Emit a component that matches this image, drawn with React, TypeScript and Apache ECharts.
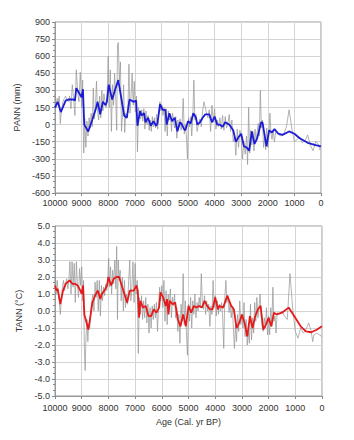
import React, { useEffect, useRef } from "react";
import * as echarts from "echarts";

const xTicks = [10000, 9000, 8000, 7000, 6000, 5000, 4000, 3000, 2000, 1000, 0];

// PANN (mm) raw reconstruction [age, value]
const pannRaw: number[][] = [
  [10000,270],[9960,150],[9920,230],[9880,200],[9840,250],[9800,10],[9760,120],[9700,200],[9650,230],[9600,250],
  [9550,220],[9500,200],[9450,250],[9400,140],[9350,350],[9300,230],[9250,80],[9200,480],[9150,300],[9100,200],
  [9050,460],[9000,150],[8960,390],[8920,-250],[8880,50],[8840,-200],[8800,30],[8760,-100],[8720,60],[8680,-30],
  [8640,100],[8600,-20],[8560,320],[8520,50],[8480,150],[8440,380],[8400,120],[8360,40],[8320,250],[8280,60],
  [8240,300],[8200,120],[8160,270],[8120,200],[8080,150],[8040,250],[8000,600],[7960,150],[7920,480],[7880,-60],
  [7840,350],[7800,170],[7760,450],[7720,250],[7680,-50],[7650,700],[7620,720],[7580,380],[7540,550],[7500,-60],
  [7460,100],[7420,350],[7380,-70],[7340,100],[7300,60],[7260,120],[7220,530],[7180,100],[7140,250],[7100,450],
  [7060,170],[7020,380],[6980,110],[6940,250],[6900,-240],[6860,150],[6820,100],[6780,50],[6740,130],[6700,30],
  [6660,140],[6620,-40],[6580,120],[6540,0],[6500,80],[6460,-50],[6420,40],[6380,-60],[6340,70],[6300,-20],
  [6260,60],[6220,-30],[6180,90],[6140,-40],[6100,100],[6060,200],[6020,120],[5980,170],[5940,80],[5900,150],
  [5860,-60],[5820,140],[5780,-100],[5740,120],[5700,40],[5660,90],[5620,-60],[5580,100],[5540,20],[5500,-30],
  [5460,70],[5420,-120],[5380,40],[5340,-20],[5300,50],[5260,-50],[5220,20],[5180,230],[5140,-80],[5100,0],
  [5060,-100],[5020,-300],[4980,60],[4940,-20],[4900,70],[4860,-100],[4820,60],[4780,390],[4740,40],[4700,90],
  [4660,-60],[4600,10],[4550,50],[4500,-20],[4450,120],[4400,200],[4350,150],[4300,100],[4250,60],[4200,130],
  [4150,-60],[4100,170],[4050,20],[4000,140],[3950,-40],[3900,40],[3850,-20],[3800,60],[3750,-40],[3700,80],
  [3650,-50],[3600,70],[3550,-30],[3500,10],[3450,90],[3400,-60],[3350,40],[3300,-150],[3250,-100],[3200,-270],
  [3150,-40],[3100,-200],[3050,-50],[3000,-120],[2950,-300],[2900,-150],[2850,-260],[2800,-100],[2760,-350],[2720,150],
  [2680,-250],[2640,-50],[2600,-180],[2560,-60],[2520,-230],[2480,-40],[2440,-150],[2400,-60],[2360,10],[2320,-100],
  [2280,300],[2240,-30],[2200,40],[2160,-200],[2120,-120],[2080,-220],[2040,-30],[2000,-200],[1960,-100],[1920,100],
  [1880,-80],[1840,-130],[1800,-50],[1750,-150],[1700,-60],[1600,-90],[1500,-100],[1400,-80],[1300,-20],[1200,130],
  [1100,-30],[1000,-150],[900,-130],[800,-110],[700,-160],[600,-140],[500,-90],[400,-180],[300,-230],[200,-150],
  [100,-170],[50,-220],[0,-210]
];

// PANN smoothed
const pannSmooth: number[][] = [
  [10000,150],[9900,200],[9780,110],[9600,210],[9500,220],[9300,220],[9250,210],[9200,320],[9100,280],[9000,240],
  [8950,310],[8900,0],[8750,-60],[8600,40],[8450,150],[8400,200],[8300,90],[8200,200],[8100,170],[8050,200],
  [7980,350],[7850,220],[7750,300],[7620,390],[7500,220],[7400,80],[7300,60],[7200,220],[7050,200],[6950,210],
  [6900,-10],[6800,120],[6750,80],[6650,100],[6600,20],[6500,60],[6400,-10],[6300,30],[6200,-10],[6150,10],
  [6050,180],[5950,130],[5850,130],[5800,0],[5700,100],[5600,30],[5500,60],[5400,-60],[5300,20],[5250,10],
  [5150,-40],[5100,-50],[5000,30],[4900,10],[4800,100],[4700,60],[4650,0],[4550,20],[4450,60],[4350,90],
  [4200,90],[4100,20],[4000,70],[3900,0],[3800,0],[3700,-20],[3600,20],[3450,0],[3300,-50],[3200,-150],
  [3100,-110],[3000,-80],[2900,-190],[2800,-200],[2700,-230],[2600,-60],[2500,-170],[2400,-120],[2250,20],[2200,20],
  [2050,-190],[1950,-50],[1850,-70],[1750,-40],[1600,-80],[1450,-90],[1200,-60],[1000,-80],[800,-120],[500,-160],
  [200,-180],[0,-190]
];

// TANN (°C) raw reconstruction [age, value]
const tannRaw: number[][] = [
  [10000,2.0],[9960,1.0],[9920,1.8],[9880,1.0],[9840,0.6],[9800,-0.2],[9760,0.8],[9720,1.4],[9680,1.8],[9640,1.2],
  [9600,1.6],[9560,1.9],[9520,1.3],[9480,1.8],[9440,2.9],[9400,1.0],[9360,2.9],[9320,1.4],[9280,2.8],[9240,0.5],
  [9200,2.9],[9160,1.6],[9120,0.8],[9080,2.5],[9040,1.5],[9000,2.6],[8960,0.6],[8930,1.8],[8900,-2.2],[8870,-3.5],
  [8840,-1.5],[8800,-0.5],[8770,-1.8],[8740,-0.8],[8700,-1.0],[8660,0.0],[8620,0.6],[8580,1.0],[8540,0.0],[8500,1.7],
  [8460,0.8],[8420,1.8],[8380,0.0],[8340,1.8],[8300,-0.3],[8260,1.5],[8220,0.6],[8180,1.4],[8140,0.9],[8100,1.6],
  [8060,1.2],[8020,2.0],[7990,3.1],[7960,1.4],[7920,2.6],[7880,1.0],[7840,2.4],[7800,1.6],[7760,3.0],[7720,1.3],
  [7690,3.8],[7660,-0.5],[7630,3.0],[7600,1.8],[7560,2.4],[7520,0.6],[7480,2.0],[7440,0.0],[7400,1.8],[7360,0.2],
  [7320,1.0],[7280,0.4],[7240,1.8],[7200,3.0],[7160,0.6],[7120,1.4],[7080,2.9],[7040,0.5],[7000,2.8],[6960,1.0],
  [6920,1.8],[6880,-2.5],[6840,0.8],[6800,-0.2],[6760,0.9],[6720,-0.5],[6680,0.6],[6640,-0.4],[6600,0.8],[6560,-0.7],
  [6520,0.4],[6480,-1.3],[6440,0.2],[6400,-1.0],[6360,0.3],[6320,-0.5],[6280,0.4],[6240,-0.4],[6200,0.5],[6160,-1.2],
  [6120,0.4],[6080,1.4],[6040,0.6],[6000,1.5],[5960,0.2],[5920,1.8],[5880,-0.6],[5840,1.2],[5800,-0.8],[5760,1.0],
  [5720,0.2],[5680,1.3],[5640,-0.4],[5600,0.8],[5560,0.3],[5520,1.0],[5480,-0.4],[5440,0.2],[5400,-1.2],[5360,-0.2],
  [5320,-1.9],[5280,0.4],[5240,-0.6],[5200,2.2],[5160,-0.8],[5120,0.6],[5080,-1.2],[5040,-2.6],[5000,0.4],[4960,-0.6],
  [4920,0.8],[4880,-1.0],[4840,0.6],[4800,-0.2],[4760,1.0],[4720,-0.4],[4680,0.5],[4640,0.0],[4600,0.8],[4560,0.2],
  [4520,2.2],[4480,0.4],[4440,0.1],[4400,0.9],[4360,-0.2],[4320,0.6],[4280,0.0],[4240,0.4],[4200,-0.9],[4160,0.3],
  [4120,-0.2],[4080,1.8],[4040,0.2],[4000,0.9],[3960,-0.3],[3920,0.6],[3880,-0.2],[3840,0.4],[3800,0.0],[3760,0.5],
  [3720,-0.4],[3680,-2.2],[3640,0.8],[3600,1.8],[3560,0.5],[3520,0.9],[3480,-0.1],[3440,0.5],[3400,-0.4],[3360,0.3],
  [3320,-1.0],[3280,-2.2],[3240,-0.8],[3200,-1.8],[3160,-0.2],[3120,-1.2],[3080,0.6],[3040,-0.8],[3000,-0.2],[2960,-1.0],
  [2920,0.5],[2880,-1.5],[2840,-0.5],[2800,-2.0],[2760,-1.2],[2720,-1.9],[2680,0.4],[2640,-1.7],[2600,-0.4],[2560,-1.3],
  [2520,0.5],[2480,-0.6],[2440,0.8],[2400,-0.4],[2360,0.2],[2320,1.0],[2280,-0.2],[2240,-0.9],[2200,-1.2],[2160,-0.4],
  [2120,-1.0],[2080,0.2],[2040,-1.4],[2000,-0.3],[1960,-1.4],[1920,0.2],[1880,-0.9],[1840,1.4],[1800,-0.6],[1760,-0.3],
  [1720,-1.3],[1680,-0.1],[1600,-0.2],[1500,0.0],[1400,-0.3],[1300,-0.5],[1200,2.2],[1100,0.2],[1000,-1.2],[900,-1.6],
  [800,-1.0],[700,-1.3],[600,-1.1],[500,-0.7],[400,-1.2],[350,-1.8],[300,-1.4],[200,-1.3],[100,-1.4],[0,-1.5]
];

// TANN smoothed
const tannSmooth: number[][] = [
  [10000,1.5],[9950,1.2],[9900,1.3],[9800,0.4],[9700,1.2],[9600,1.6],[9450,1.8],[9350,1.6],[9250,1.6],[9150,1.5],
  [9050,1.2],[9000,1.0],[8950,1.5],[8900,-0.2],[8800,-0.8],[8750,-1.1],[8700,-0.6],[8600,0.5],[8500,0.9],[8400,1.2],
  [8300,0.7],[8250,1.0],[8150,1.2],[8050,1.5],[8000,2.0],[7900,1.5],[7800,1.9],[7700,2.0],[7600,2.0],[7500,1.5],
  [7400,1.0],[7300,0.5],[7200,1.2],[7050,1.2],[6950,1.5],[6900,1.2],[6850,-0.4],[6800,0.6],[6700,0.2],[6600,0.3],
  [6500,-0.3],[6400,-0.3],[6300,0.1],[6200,-0.1],[6100,0.2],[6050,1.1],[5950,0.8],[5850,0.3],[5800,0.7],[5750,-0.2],
  [5700,0.6],[5600,0.4],[5500,0.5],[5400,-0.5],[5300,-0.9],[5200,-0.2],[5100,-0.9],[5000,0.3],[4900,-0.1],[4800,0.3],
  [4700,0.2],[4600,0.3],[4500,0.2],[4400,0.6],[4300,0.3],[4200,0.1],[4100,0.1],[4000,0.8],[3900,0.1],[3850,0.3],
  [3700,0.2],[3550,0.9],[3400,0.3],[3300,0.1],[3200,-1.0],[3100,-0.7],[3000,-0.2],[2900,-0.7],[2800,-1.5],[2700,-0.3],
  [2600,-1.0],[2500,-0.3],[2400,0.1],[2300,0.3],[2200,-1.1],[2100,-0.8],[2000,-0.4],[1900,-0.9],[1800,-0.1],[1700,-0.2],
  [1500,-0.1],[1250,0.2],[1000,-0.4],[800,-0.9],[600,-1.2],[400,-1.25],[200,-1.1],[0,-0.9]
];

const FONT = "Liberation Sans, Arial, sans-serif";
const gridLine = { show: true, lineStyle: { color: "#d4d4d4", width: 1 } };

function xAxis(gridIndex: number, withName: boolean, margin: number) {
  return {
    type: "value",
    gridIndex,
    inverse: true,
    min: xTicks[xTicks.length - 1],
    max: xTicks[0],
    interval: 1000,
    axisLine: { show: true, onZero: false, lineStyle: { color: "#999" } },
    axisTick: { show: true, length: 3, inside: false, lineStyle: { color: "#888" } },
    axisLabel: { fontSize: 9, color: "#333", margin, fontFamily: FONT, formatter: (v: number) => String(v) },
    splitLine: gridLine,
    name: withName ? "Age (Cal. yr BP)" : "",
    nameLocation: "middle",
    nameGap: 21,
    nameTextStyle: { fontSize: 9, color: "#333", fontFamily: FONT },
  };
}

function yAxis(gridIndex: number, min: number, max: number, interval: number, name: string, dec: number) {
  return {
    type: "value",
    gridIndex,
    min,
    max,
    interval,
    axisLine: { show: true, onZero: false, lineStyle: { color: "#999" } },
    axisTick: { show: true, length: 3, lineStyle: { color: "#888" } },
    minorTick: { show: true, splitNumber: 3, length: 2, lineStyle: { color: "#888" } },
    axisLabel: {
      fontSize: 9,
      color: "#333",
      margin: 5,
      fontFamily: FONT,
      formatter: (v: number) => v.toFixed(dec),
    },
    splitLine: gridLine,
    name,
    nameLocation: "middle",
    nameGap: 28,
    nameTextStyle: { fontSize: 9, color: "#333", fontFamily: FONT },
  };
}

export default function App() {
  const ref = useRef<HTMLDivElement>(null);
  useEffect(() => {
    if (!ref.current) return;
    const chart = echarts.init(ref.current, null, { renderer: "svg" });
    const rawStyle = { color: "#949494", width: 0.7 };
    chart.setOption({
      animation: false,
      backgroundColor: "#ffffff",
      textStyle: { fontFamily: FONT },
      grid: [
        { left: 55, right: 33, top: 22, height: 171, show: true, borderColor: "#999", borderWidth: 1, backgroundColor: "transparent" },
        { left: 55, right: 32, top: 226, height: 170, show: true, borderColor: "#999", borderWidth: 1, backgroundColor: "transparent" },
      ],
      xAxis: [xAxis(0, false, 5), xAxis(1, true, 7)],
      yAxis: [
        yAxis(0, -600, 900, 150, "PANN (mm)", 0),
        yAxis(1, -5, 5, 1, "TANN (°C)", 1),
      ],
      series: [
        { type: "line", xAxisIndex: 0, yAxisIndex: 0, data: pannRaw, showSymbol: false, symbol: "none", lineStyle: rawStyle, z: 2 },
        { type: "line", xAxisIndex: 0, yAxisIndex: 0, data: pannSmooth, showSymbol: false, symbol: "none", lineStyle: { color: "#1c1cd6", width: 1.8 }, z: 3 },
        { type: "line", xAxisIndex: 1, yAxisIndex: 1, data: tannRaw, showSymbol: false, symbol: "none", lineStyle: rawStyle, z: 2 },
        { type: "line", xAxisIndex: 1, yAxisIndex: 1, data: tannSmooth, showSymbol: false, symbol: "none", lineStyle: { color: "#e51a1a", width: 1.8 }, z: 3 },
      ],
    });
    return () => chart.dispose();
  }, []);
  return (
    <div
      ref={ref}
      style={{ position: "absolute", left: 0, top: 0, width: 354, height: 440, background: "#fff" }}
    />
  );
}
